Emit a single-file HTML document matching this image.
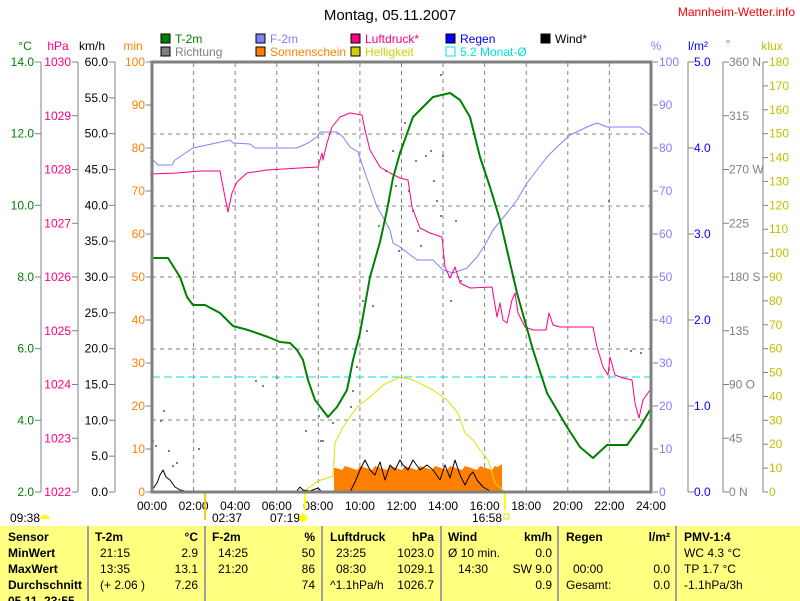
<!DOCTYPE html><html><head><meta charset="utf-8"><style>
body{margin:0;background:#fff;width:800px;height:601px;overflow:hidden;font-family:"Liberation Sans",sans-serif}
svg{position:absolute;left:0;top:0}
</style></head><body>
<svg id="s" width="800" height="601" xmlns="http://www.w3.org/2000/svg" font-family="Liberation Sans, sans-serif" font-size="12"></svg>
<script>
const s=document.getElementById('s');let h='';
const X=t=>152+t*20.79;
function txt(x,y,t,c,a,w){h+=`<text x="${x}" y="${y}" fill="${c||'#000'}" text-anchor="${a||'start'}"${w?' font-weight="bold"':''}>${t}</text>`;}
function line(x1,y1,x2,y2,c,w,d){h+=`<line x1="${x1}" y1="${y1}" x2="${x2}" y2="${y2}" stroke="${c}" stroke-width="${w||1}"${d?` stroke-dasharray="${d}"`:''}/>`;}
h+=`<text x="390" y="20" font-size="15" text-anchor="middle">Montag, 05.11.2007</text>`;
txt(795,16,'Mannheim-Wetter.info','#f00','end');
const lg=[[161,43,'#008000','T-2m','#008000'],[161,56,'#808080','Richtung','#808080'],[256,43,'#8080ff','F-2m','#8080ff'],[256,56,'#ff8000','Sonnenschein','#ff8000'],[351,43,'#ff0080','Luftdruck*','#ff0080'],[351,56,'#d0d000','Helligkeit','#d0d000'],[446,43,'#0000ff','Regen','#0000ff'],[446,56,'#fff','5.2 Monat-Ø','#00e0e0'],[541,43,'#000','Wind*','#000']];
for(const [x,y,c,t,tc] of lg){h+=`<rect x="${x}" y="${y-9}" width="9" height="9" fill="${c}" stroke="${t=='5.2 Monat-Ø'?'#00e0e0':'#000'}"/>`;txt(x+14,y,t,tc);}
txt(25,50,'°C','#008000','middle');txt(58,50,'hPa','#ff0080','middle');txt(92,50,'km/h','#000','middle');txt(133,50,'min','#ff8000','middle');
txt(656,50,'%','#8080ff','middle');txt(698,50,'l/m²','#0000ff','middle');txt(728,48,'°','#808080','middle');txt(772,50,'klux','#c0c000','middle');
for(let i=1;i<12;i++)line(X(2*i),63,X(2*i),491,'#808080',1,'4,4');
for(const y of [134,206,277,349,420])line(152,y,650,y,'#808080',1,'4,4');
line(152,377,650,377,'#00e0e0',1,'8,4');
function axis(lx,tx0,tx1,vals,col,anchor,labx,step){line(lx,62,lx,492,'#808080');vals.forEach((v,i)=>{const y=62+i*step;line(tx0,y,tx1,y,'#808080');txt(labx,y+4,v,col,anchor);});}
axis(41,35,41,['14.0','12.0','10.0','8.0','6.0','4.0','2.0'],'#008000','end',34,430/6);
axis(78,72,78,['1030','1029','1028','1027','1026','1025','1024','1023','1022'],'#ff0080','end',71,430/8);
axis(115,109,115,['60.0','55.0','50.0','45.0','40.0','35.0','30.0','25.0','20.0','15.0','10.0','5.0','0.0'],'#000','end',108,430/12);
for(let i=0;i<=10;i++){const y=62+i*43;line(146,y,151,y,'#808080');txt(145,y+4,100-i*10,'#ff8000','end');}
for(let i=0;i<=10;i++){const y=62+i*43;line(653,y,658,y,'#808080');txt(659,y+4,100-i*10,'#8080ff');}
axis(688,688,694,['5.0','4.0','3.0','2.0','1.0','0.0'],'#0000ff','start',694,430/5);
axis(723,723,729,['360 N','315','270 W','225','180 S','135','90 O','45','0 N'],'#808080','start',729,430/8);
line(763,62,763,492,'#808080');for(let i=0;i<=18;i++){const y=62+i*430/18;line(763,y,768,y,'#808080');txt(769,y+4,180-i*10,'#c0c000');}
for(let i=0;i<=12;i++)txt(X(2*i),510,String(2*i).padStart(2,'0')+':00','#000','middle');
txt(10,522,'09:38');h+=`<path d="M40 519 a5 4 0 0 1 10 0z" fill="#ffff00"/>`;
txt(212,522,'02:37');txt(270,522,'07:19');h+=`<circle cx="303" cy="518" r="4" fill="#ffff00"/>`;
txt(472,522,'16:58');h+=`<rect x="504" y="514" width="5" height="5" fill="none" stroke="#e0e000"/>`;
line(205,492,205,520,'#ffd000',2);line(305,492,305,510,'#ffff00',2);line(505,492,505,510,'#ffff00',2);
function P(pts,c,w){h+=`<path d="M${pts.map(p=>p.join(' ')).join(' L')}" fill="none" stroke="${c}" stroke-width="${w||1}" stroke-linejoin="round"/>`;}
// sunshine
let sd='M334 492 L334 468';for(let x=336;x<=500;x+=3){sd+=` L${x} ${466+((x*7)%5)}`;}sd+=' L502 464 L502 492Z';
h+=`<path d="${sd}" fill="#ff8000"/>`;
line(152,491,650,491,'#ff8000',1);
P([[303,492],[318,481],[333,476],[335,443],[343,427],[357,407],[370,397],[383,385],[400,377],[413,380],[433,390],[447,400],[458,413],[465,433],[473,440],[480,450],[488,460],[495,483],[503,490],[505,492]],'#e0e000');
P([[152,490],[157,483],[160,475],[163,470],[166,477],[170,480],[175,487],[180,490],[190,492],[296,492],[300,487],[303,490],[310,491],[318,488],[322,492],[350,492],[355,482],[360,470],[365,460],[370,470],[375,475],[380,462],[385,480],[390,465],[395,470],[400,460],[403,465],[408,470],[413,460],[420,470],[427,465],[433,470],[440,480],[445,465],[450,478],[455,460],[460,475],[465,485],[470,475],[473,472],[477,480],[483,487],[490,491],[650,491]],'#000');
const dots=[[152,440],[155,445],[160,420],[163,410],[168,450],[172,465],[176,462],[198,448],[255,380],[262,385],[276,377],[305,430],[318,415],[320,440],[322,440],[332,422],[350,406],[352,390],[356,366],[362,300],[366,330],[372,305],[378,225],[385,170],[388,200],[392,150],[395,185],[398,250],[404,122],[408,190],[412,210],[415,160],[417,230],[420,245],[425,155],[430,150],[433,180],[436,200],[440,215],[442,155],[450,300],[455,220],[460,280],[630,350],[640,352],[608,200],[440,74]];
for(const [x,y] of dots)h+=`<rect x="${x}" y="${y}" width="2" height="2" fill="#808080"/>`;
P([[150,157],[158,165],[172,165],[175,160],[187,152],[193,148],[207,145],[230,140],[233,143],[250,144],[255,148],[277,148],[297,148],[308,143],[317,137],[320,132],[337,132],[343,137],[350,147],[358,152],[363,167],[370,187],[377,207],[383,217],[390,230],[393,243],[400,247],[417,260],[433,260],[443,270],[453,273],[467,268],[477,257],[485,245],[493,230],[507,213],[517,200],[527,183],[537,170],[547,157],[557,147],[570,135],[587,127],[597,123],[607,127],[640,127],[650,135]],'#8080ff');
P([[150,174],[177,173],[200,171],[220,171],[223,187],[228,212],[232,193],[237,182],[247,173],[267,170],[300,168],[318,167],[322,153],[323,160],[327,143],[332,127],[340,117],[350,113],[362,115],[365,130],[370,150],[380,167],[390,173],[400,178],[408,180],[412,207],[420,228],[430,233],[442,237],[445,267],[450,278],[455,267],[460,283],[470,288],[492,287],[497,317],[500,303],[503,320],[507,323],[512,300],[515,293],[518,313],[525,327],[533,330],[546,330],[549,313],[553,325],[560,327],[593,327],[597,347],[603,367],[608,375],[610,357],[615,375],[623,378],[632,380],[635,403],[639,418],[643,400],[650,390]],'#ff0080');
P([[152,258],[168,258],[180,277],[187,297],[193,305],[205,305],[220,313],[233,326],[248,330],[268,337],[280,342],[290,343],[297,350],[303,360],[308,380],[315,400],[328,417],[337,407],[347,390],[353,360],[360,333],[370,277],[380,242],[387,210],[393,178],[400,153],[413,117],[433,97],[450,93],[460,100],[470,117],[480,157],[490,187],[500,220],[517,293],[533,350],[547,393],[567,427],[580,447],[593,458],[607,445],[627,445],[640,427],[650,410]],'#008000',2);
h+=`<rect x="152" y="62" width="499" height="430" fill="none" stroke="#808080" stroke-width="3"/>`;
h+=`<rect x="0" y="526" width="800" height="75" fill="#ffff80"/>`;
for(const x of [88,205,322,441,558,676])line(x,526,x,601,'#a0a0a0',2);
const rows=[541,557,573,589];
txt(8,rows[0],'Sensor','#000','start',1);txt(8,rows[1],'MinWert','#000','start',1);txt(8,rows[2],'MaxWert','#000','start',1);txt(8,rows[3],'Durchschnitt','#000','start',1);
txt(95,rows[0],'T-2m','#000','start',1);txt(198,rows[0],'°C','#000','end',1);
txt(100,rows[1],'21:15');txt(198,rows[1],'2.9','#000','end');txt(100,rows[2],'13:35');txt(198,rows[2],'13.1','#000','end');txt(100,rows[3],'(+ 2.06 )');txt(198,rows[3],'7.26','#000','end');
txt(212,rows[0],'F-2m','#000','start',1);txt(315,rows[0],'%','#000','end',1);
txt(218,rows[1],'14:25');txt(315,rows[1],'50','#000','end');txt(218,rows[2],'21:20');txt(315,rows[2],'86','#000','end');txt(315,rows[3],'74','#000','end');
txt(330,rows[0],'Luftdruck','#000','start',1);txt(434,rows[0],'hPa','#000','end',1);
txt(336,rows[1],'23:25');txt(434,rows[1],'1023.0','#000','end');txt(336,rows[2],'08:30');txt(434,rows[2],'1029.1','#000','end');txt(330,rows[3],'^1.1hPa/h');txt(434,rows[3],'1026.7','#000','end');
txt(448,rows[0],'Wind','#000','start',1);txt(552,rows[0],'km/h','#000','end',1);
txt(448,rows[1],'Ø 10 min.');txt(552,rows[1],'0.0','#000','end');txt(458,rows[2],'14:30');txt(552,rows[2],'SW 9.0','#000','end');txt(552,rows[3],'0.9','#000','end');
txt(566,rows[0],'Regen','#000','start',1);txt(670,rows[0],'l/m²','#000','end',1);
txt(573,rows[2],'00:00');txt(670,rows[2],'0.0','#000','end');txt(566,rows[3],'Gesamt:');txt(670,rows[3],'0.0','#000','end');
txt(684,rows[0],'PMV-1:4','#000','start',1);txt(684,rows[1],'WC 4.3 °C');txt(684,rows[2],'TP 1.7 °C');txt(684,rows[3],'-1.1hPa/3h');
txt(8,605,'05.11. 23:55','#000','start',1);
s.innerHTML=h;
</script></body></html>
